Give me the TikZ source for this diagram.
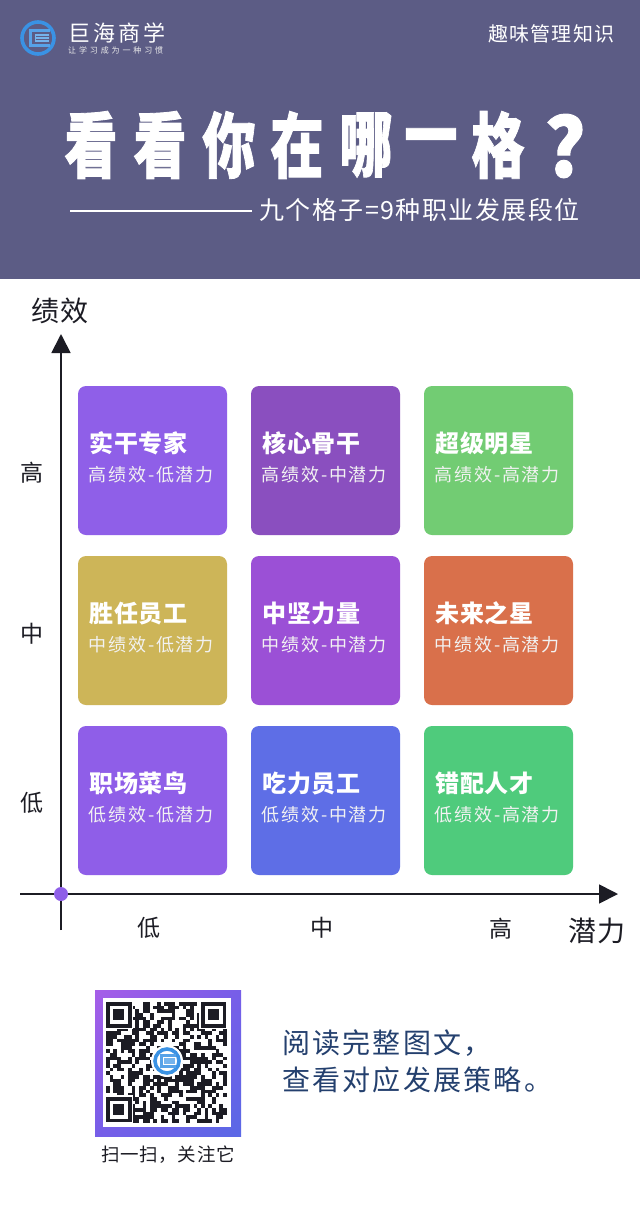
\documentclass[tikz,border=0pt]{standalone}
\usepackage{fontspec}
\setmainfont{Noto Sans CJK SC}
\usetikzlibrary{arrows.meta,shadings}
\definecolor{headerbg}{HTML}{5C5C85}
\definecolor{ink}{HTML}{1C1C24}
\definecolor{navy}{HTML}{24406E}
\definecolor{dotpurple}{HTML}{8F5FE8}
\definecolor{logoblue}{HTML}{3A92E4}
\definecolor{qrtl}{HTML}{A65EE8}
\definecolor{qrtr}{HTML}{765EE8}
\definecolor{qrbl}{HTML}{765EE8}
\definecolor{qrbr}{HTML}{5A68E6}
\newcommand{\px}[2]{\fontsize{#1pt}{#1pt}\selectfont\addfontfeature{LetterSpace=#2}}

\begin{document}
\begin{tikzpicture}[x=1pt,y=-1pt]

\tikzset{card/.style = {shape=rectangle,rounded corners=8pt,minimum size=149pt,inner sep=0pt}}
\tikzset{cardhead/.style = {anchor=west,inner sep=0pt,text=white,font=\px{24}{2}\bfseries}}
\tikzset{cardsub/.style = {anchor=west,inner sep=0pt,text=white!90!gray,font=\px{18}{10}}}
\tikzset{axislabel/.style = {inner sep=0pt,text=ink,font=\px{23}{0}}}
\tikzset{axisname/.style = {inner sep=0pt,text=ink,font=\px{28}{5}}}
\tikzset{headtext/.style = {anchor=west,inner sep=0pt,text=white}}
\tikzset{titlechar/.style = {inner sep=0pt,text=white,font=\px{62}{0}\bfseries\addfontfeature{FakeBold=1.2}}}
\tikzset{axis/.style = {draw=ink,line width=1.8pt,-{Triangle[length=19pt,width=19pt]}}}
\tikzset{logomark/.pic = {
  \draw[logoblue,line width=3.6pt] (0,0) circle (16);
  \draw[logoblue!85!white,line width=2.6pt] (12,-7.5) -- (-7.5,-7.5) -- (-7.5,7.5) -- (12,7.5);
  \draw[logoblue!70!white,line width=1.8pt] (11,-3) -- (-2.5,-3) -- (-2.5,3) -- (11,3);
  \draw[logoblue!70!white,line width=1.4pt] (-2.5,0) -- (11,0);
}}

\useasboundingbox (0,0) rectangle (640,1224);
\fill[white] (0,0) rectangle (640,1224);

%header
\fill[headerbg] (0,0) rectangle (640,279);
\pic at (38,38) {logomark};
\node[headtext,font=\px{22}{14}] (brand) at (68,33) {巨海商学};
\node[headtext,font=\px{8}{36},text=white!85!gray] (slogan) at (68,50) {让学习成为一种习惯};
\node[headtext,font=\px{20}{6}] (topic) at (488,34) {趣味管理知识};
%title, one node per character
\foreach \ch/\cx [count=\i] in {看/91,看/160,你/229,在/297,哪/366,一/431,格/498}
  \node[titlechar] (title\i) at (\cx,145) {\scalebox{.86}[1.15]{\ch}};
\node[titlechar] (title8) at (565,146) {\scalebox{1.25}[1.3]{?}};
\coordinate (rulea) at (70,211);
\coordinate (ruleb) at (252,211);
\draw[white,line width=1.5pt] (rulea) -- (ruleb);
\node[headtext,font=\px{25}{6}] (subtitle) at (259,210) {九个格子=9种职业发展段位};

%cards
\foreach \cname/\cx/\cy/\col/\head/\sub in {
  a/152.5/460.5/8F5FE8/实干专家/高绩效-低潜力,
  b/325.5/460.5/8A4FBF/核心骨干/高绩效-中潜力,
  c/498.5/460.5/72CC73/超级明星/高绩效-高潜力,
  d/152.5/630.5/CDB558/胜任员工/中绩效-低潜力,
  e/325.5/630.5/9B50D6/中坚力量/中绩效-中潜力,
  f/498.5/630.5/D9704B/未来之星/中绩效-高潜力,
  g/152.5/800.5/8F5EE8/职场菜鸟/低绩效-低潜力,
  h/325.5/800.5/5E6EE6/吃力员工/低绩效-中潜力,
  i/498.5/800.5/4FCB7C/错配人才/低绩效-高潜力}{
  \definecolor{cardcol}{HTML}{\col}
  \node[card,fill=cardcol] (\cname) at (\cx,\cy) {};
  \node[cardhead] (\cname head) at (\cx-63,\cy-17) {\head};
  \node[cardsub] (\cname sub) at (\cx-64,\cy+14.5) {\sub};
}

%axes
\coordinate (yfoot) at (61,930);
\coordinate (ytip) at (61,334);
\coordinate (xfoot) at (20,894);
\coordinate (xtip) at (618,894);
\draw[axis] (yfoot) -- (ytip);
\draw[axis] (xfoot) -- (xtip);
\node[circle,fill=dotpurple,minimum size=14pt,inner sep=0pt] (origin) at (61,894) {};
\node[axisname] (perf) at (60,311) {绩效};
\node[axisname] (potential) at (597,931) {潜力};
\node[axislabel] (yhigh) at (32,473) {高};
\node[axislabel] (ymid) at (32,634) {中};
\node[axislabel] (ylow) at (32,803) {低};
\node[axislabel] (xlow) at (149,928) {低};
\node[axislabel] (xmid) at (322,928) {中};
\node[axislabel] (xhigh) at (501,929) {高};

%qr card
\shade[upper left=qrtl,upper right=qrtr,lower left=qrbl,lower right=qrbr]
  (95,990) rectangle (241,1136);
\fill[white] (103,998) rectangle (231,1127);
\begin{scope}[shift={(106,1002)},x=3.65pt,y=-3.65pt]
  \pgfmathsetseed{11}
  \foreach \i in {0,...,32}{
    \foreach \j in {0,...,32}{
      \pgfmathrandominteger{\bit}{0}{99}
      \ifnum\bit<52
        \fill[ink] (\i,\j) rectangle +(1.02,1.02);
      \fi
    }
  }
  %finder squares
  \foreach \fx/\fy in {0/0,26/0,0/26}{
    \fill[white] (\fx-0.5,\fy-0.5) rectangle +(8,8);
    \fill[ink] (\fx,\fy) rectangle +(7,7);
    \fill[white] (\fx+1,\fy+1) rectangle +(5,5);
    \fill[ink] (\fx+2,\fy+2) rectangle +(3,3);
  }
\end{scope}
\fill[white] (167,1061) circle (16);
\pic[scale=.75] at (167,1061) {logomark};
\node[inner sep=0pt,text=ink,font=\px{18.5}{4}] (scan) at (168,1155) {扫一扫，关注它};

%footer
\node[headtext,text=navy,font=\px{28}{8}] (lineone) at (282,1043) {阅读完整图文，};
\node[headtext,text=navy,font=\px{28}{8}] (linetwo) at (282,1080) {查看对应发展策略。};

\end{tikzpicture}
\end{document}
